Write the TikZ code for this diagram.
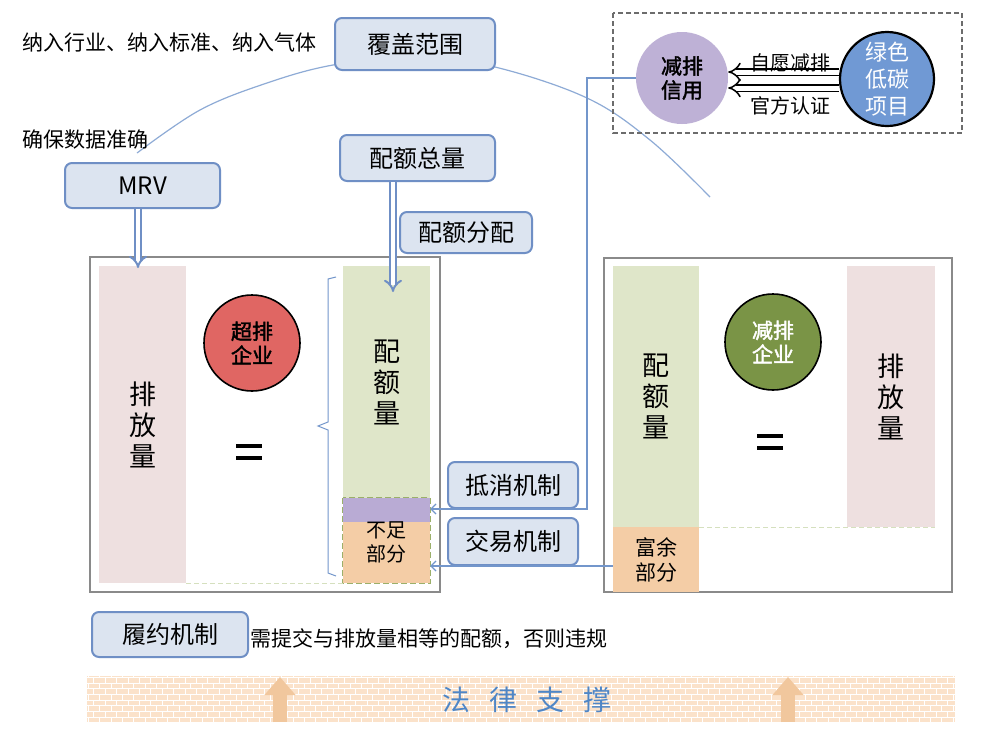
\documentclass[tikz,border=0pt]{standalone}
\usepackage{fontspec}
\newfontfamily\cjk{Noto Sans CJK SC}
\newfontfamily\cjkb[FakeBold=2]{Noto Sans CJK SC}
\newcommand\myfs[2]{\fontsize{#1}{#2}\selectfont}
\usetikzlibrary{patterns,arrows.meta,calc}
\definecolor{boxfill}{HTML}{DCE4F0}
\definecolor{boxline}{HTML}{6F8FC5}
\definecolor{connblue}{HTML}{7396CB}
\definecolor{arcblue}{HTML}{8EABD6}
\definecolor{framegray}{HTML}{8A8A8A}
\definecolor{pinkbar}{HTML}{EEE0E0}
\definecolor{greenbar}{HTML}{DFE6C9}
\definecolor{orangebar}{HTML}{F4CDA6}
\definecolor{purplebar}{HTML}{B9ABD4}
\definecolor{dashgreen}{HTML}{9BB06A}
\definecolor{lightdash}{HTML}{D5E0BE}
\definecolor{redc}{HTML}{E06663}
\definecolor{greenc}{HTML}{7A9446}
\definecolor{purplec}{HTML}{BEB1D6}
\definecolor{bluec}{HTML}{7099D4}
\definecolor{bandorange}{HTML}{FBE2CA}
\definecolor{legalorange}{HTML}{F1C79D}
\definecolor{legalblue}{HTML}{4F86C6}
\begin{document}
\begin{tikzpicture}[x=1pt,y=-1pt,
  every node/.style={font=\cjk},
  tag/.style={draw=boxline, line width=2pt, fill=boxfill, rounded corners=7pt, inner sep=0pt, font=\cjk\myfs{24}{28}},
  bar/.style={inner sep=0pt, align=center, font=\cjk\myfs{27}{31}},
  disc/.style={circle, inner sep=0pt, align=center, font=\cjkb\myfs{21}{24}},
  plain/.style={inner sep=0pt, font=\cjk\myfs{21}{25}},
  conn/.style={draw=connblue, line width=1.2pt},
  dbl/.style={draw=boxline, double=white, double distance=4pt, line width=2pt, -{Implies}},
  whitearrow/.style={draw=black, double=white, double distance=5pt, line width=1.5pt, -{Implies}},
  frame/.style={draw=framegray, line width=1.2pt},
  eqbar/.style={line width=4pt, black},
]
\useasboundingbox[fill=white] (0,0) rectangle (1006,737);

% background arc
\draw[arcblue, line width=1.2pt] plot[smooth, tension=0.6] coordinates {(137,153) (200,110) (267,83) (333,65) (415,56) (495,67) (587,98) (650,140) (710,197)};

% top texts
\node[plain, anchor=west] (scopeText) at (22,43) {纳入行业、纳入标准、纳入气体};
\node[plain, anchor=west] (mrvText) at (22,140) {确保数据准确};

% top-right dashed frame
\draw[draw=gray!85!black, line width=1.2pt, dash pattern=on 5pt off 3pt] (613,13) rectangle (962,133);
\node[disc, fill=purplec, minimum size=92pt] (credit) at (682,78) {减排\\信用};
\node[disc, fill=bluec, draw=black, line width=2.2pt, minimum size=94pt, text=white, font=\cjk\myfs{22}{27}] (green) at (887,79) {绿色\\低碳\\项目};
\draw[whitearrow] ([yshift=7pt]green.west) -- ([yshift=6pt]credit.east);
\draw[whitearrow] ([yshift=-9pt]green.west) -- ([yshift=-10pt]credit.east);
\node[plain, font=\cjk\myfs{20}{24}] (vol) at (790,63) {自愿减排};
\node[plain, font=\cjk\myfs{20}{24}] (off) at (790,106) {官方认证};

% outer frames
\draw[frame] (90,257) rectangle (440,592);
\draw[frame] (604,258) rectangle (952,592);

% left company
\node[bar, fill=pinkbar, minimum width=87pt, minimum height=317pt] (emitL) at (142.5,424.5) {排\\放\\量};
\node[bar, fill=greenbar, minimum width=87pt, minimum height=232pt] (quotaL) at (386.5,382) {配\\额\\量};
\node[inner sep=0pt, fill=purplebar, minimum width=87pt, minimum height=24pt] (purple) at (386.5,510) {};
\node[inner sep=0pt, fill=orangebar, minimum width=87pt, minimum height=61pt] (short) at (386.5,552.5) {};
\draw[dashgreen, line width=1.3pt, dash pattern=on 6pt off 3pt] (purple.north west) rectangle (short.south east);
\node[inner sep=0pt, align=center, font=\cjk\myfs{20}{24}] (shortText) at (386.5,542) {不足\\部分};
\draw[lightdash, line width=1pt, dash pattern=on 5pt off 3pt] (emitL.south east) -- (short.south west);
\node[disc, fill=redc, draw=black, line width=1.6pt, minimum size=96pt] (over) at (252,343) {超排\\企业};
\draw[eqbar] (236,446) -- (262,446);
\draw[eqbar] (236,458) -- (262,458);
\draw[connblue, line width=1pt] (336,277) -- (328,279) -- (328,422) -- (318,426) -- (328,430) -- (328,573) -- (336,576);

% right company
\node[bar, fill=greenbar, minimum width=86pt, minimum height=261pt] (quotaR) at (656,396.5) {配\\额\\量};
\node[inner sep=0pt, fill=orangebar, minimum width=86pt, minimum height=65pt, align=center, font=\cjk\myfs{21}{25}] (surplus) at (656,559.5) {富余\\部分};
\node[bar, fill=pinkbar, minimum width=88pt, minimum height=261pt] (emitR) at (891,396.5) {排\\放\\量};
\draw[lightdash, line width=1pt, dash pattern=on 5pt off 3pt] (quotaR.south east) -- (emitR.south east);
\node[disc, fill=greenc, draw=black, line width=1.6pt, minimum size=96pt, text=white] (cut) at (773,342) {减排\\企业};
\draw[eqbar] (757,436) -- (783,436);
\draw[eqbar] (757,448) -- (783,448);

% label boxes
\node[tag, minimum width=160pt, minimum height=52pt] (cover) at (415,44) {覆盖范围};
\node[tag, minimum width=155pt, minimum height=45pt] (mrv) at (142.5,185.5) {MRV};
\node[tag, minimum width=155pt, minimum height=46pt] (total) at (417.5,158) {配额总量};
\node[tag, minimum width=132pt, minimum height=41pt] (alloc) at (466,232.5) {配额分配};
\node[tag, minimum width=130pt, minimum height=46pt] (offset) at (513,485) {抵消机制};
\node[tag, minimum width=130pt, minimum height=47pt] (trade) at (513,541.5) {交易机制};
\node[tag, minimum width=156pt, minimum height=45pt] (comply) at (170,634.5) {履约机制};
\node[plain, anchor=west] (complyText) at (250,639) {需提交与排放量相等的配额，否则违规};

% hollow arrows
\coordinate (mrvTip) at (138,268);
\coordinate (allocTip) at (393,292);
\draw[dbl] (mrv.south -| mrvTip) -- (mrvTip);
\draw[dbl] (total.south -| allocTip) -- (allocTip);

% connectors
\coordinate (offx) at (587,78);
\draw[conn, -{Straight Barb[length=5pt,width=10pt]}] (credit.west) -- (offx) -- (offx |- offset.south) -- (purple.east |- offset.south);
\draw[conn, -{Straight Barb[length=5pt,width=10pt]}] (surplus.west |- trade.south) -- (short.east |- trade.south);

% legal support band
\fill[bandorange] (87,676) rectangle (955,722);
\fill[pattern=bricks, pattern color=white] (87,676) rectangle (955,722);
\coordinate (la1b) at (280,722);
\coordinate (la1t) at (280,677);
\coordinate (la2b) at (788,722);
\coordinate (la2t) at (788,677);
\draw[legalorange, line width=14pt, -{Triangle[length=18pt,width=30pt]}] (la1b) -- (la1t);
\draw[legalorange, line width=14pt, -{Triangle[length=18pt,width=30pt]}] (la2b) -- (la2t);
\node[inner sep=0pt, text=legalblue, font=\cjk\myfs{28}{32}] (law) at (527,700) {法\hspace{19pt}律\hspace{19pt}支\hspace{19pt}撑};
\end{tikzpicture}
\end{document}
